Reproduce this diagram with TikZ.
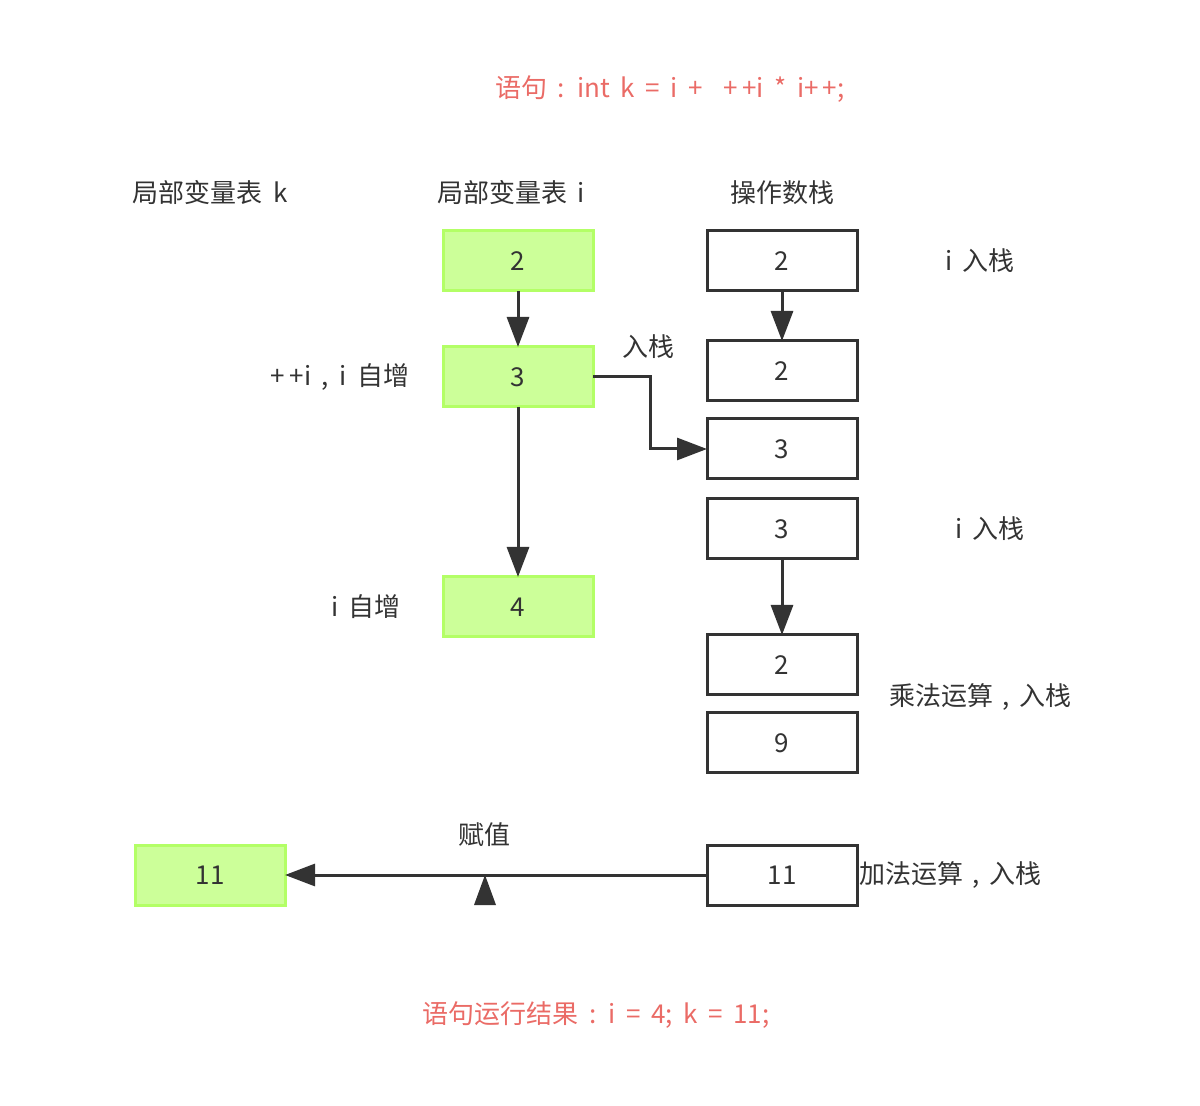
\documentclass[tikz,border=0pt]{standalone}
\usepackage{fontspec}
\setmainfont{Noto Sans CJK SC}[WordSpace=1.8]
\usepackage{xcolor}
\usetikzlibrary{positioning}
\usetikzlibrary{arrows.meta}
\definecolor{linegray}{HTML}{333333}
\definecolor{notered}{HTML}{EA6B66}
\definecolor{varfill}{HTML}{CCFF99}
\definecolor{vardraw}{HTML}{B3FF66}
\newcommand{\midcomma}{\makebox[1em]{,}}

\begin{document}
\begin{tikzpicture}[node distance=1cm, on grid, auto,
      every node/.style={font=\fontsize{13pt}{15pt}\selectfont, text=linegray},
      var/.style={draw=vardraw, fill=varfill, line width=1.5pt, minimum width=75pt, minimum height=30pt, outer sep=0pt},
      stk/.style={draw=linegray, fill=white, line width=1.5pt, minimum width=75pt, minimum height=30pt, outer sep=0pt},
      arr/.style={-{Triangle[length=15pt,width=11pt]}, color=linegray, line width=1.5pt},
      note/.style={text=notered}]

      \useasboundingbox (0,0) rectangle (600pt,-553pt);

      \node[var] (i2) at (259pt,-130.5pt) {2};
      \node[var] (i3) [below=58pt of i2] {3};
      \node[var] (i4) [below=115pt of i3] {4};

      \node[stk] (s1) [right=132pt of i2] {2};
      \node[stk] (s2) [below=55pt of s1] {2};
      \node[stk] (s3) [below=39pt of s2] {3};
      \node[stk] (s4) [below=40pt of s3] {3};
      \node[stk] (s5) [below=68pt of s4] {2};
      \node[stk] (s6) [below=39pt of s5] {9};
      \node[stk] (s7) [below=66pt of s6] {11};

      \node[var] (k) [left=286pt of s7] {11};

      \node[note] (stmt) [above=86pt of i2, xshift=76pt] {语句 : int k = i + \ +\,+i * i+\,+;};
      \node[] (headk) [above=34pt of i2, xshift=-154pt] {局部变量表 k};
      \node[] (headi) [above=34pt of i2, xshift=-3.5pt] {局部变量表 i};
      \node[] (heads) [above=34pt of s1] {操作数栈};

      \node[] (push1) [right=99pt of s1] {i 入栈};
      \node[] (push2) [above=15pt of i3, xshift=65pt] {入栈};
      \node[] (inc1) [left=89pt of i3] {+\,+i , i 自增};
      \node[] (push3) [right=104pt of s4] {i 入栈};
      \node[] (inc2) [left=76pt of i4] {i 自增};
      \node[] (mul) [right=99pt of s5, yshift=-16pt] {乘法运算\midcomma 入栈};
      \node[] (assign) [above=20pt of k, xshift=137pt] {赋值};
      \node[] (add) [right=84pt of s7] {加法运算\midcomma 入栈};
      \node[note] (result) [below=70pt of s7, xshift=-93pt] {语句运行结果 : i = 4; k = 11;};

      \coordinate[below=20pt of assign, xshift=0.5pt] (tip);
      \coordinate[below=35pt of assign, xshift=-5pt] (tipl);
      \coordinate[below=35pt of assign, xshift=6pt] (tipr);

      \path[arr]
        (i2) edge [] (i3)
        (i3) edge [] (i4)
        (i3.east) edge [to path={-- ++(28.5pt,0) |- (\tikztotarget)}] (s3.west)
        (s1) edge [] (s2)
        (s4) edge [] (s5)
        (s7) edge [] (k)
        ;
      \fill[linegray] (tipl) -- (tip) -- (tipr) -- cycle;

    \end{tikzpicture}
\end{document}
